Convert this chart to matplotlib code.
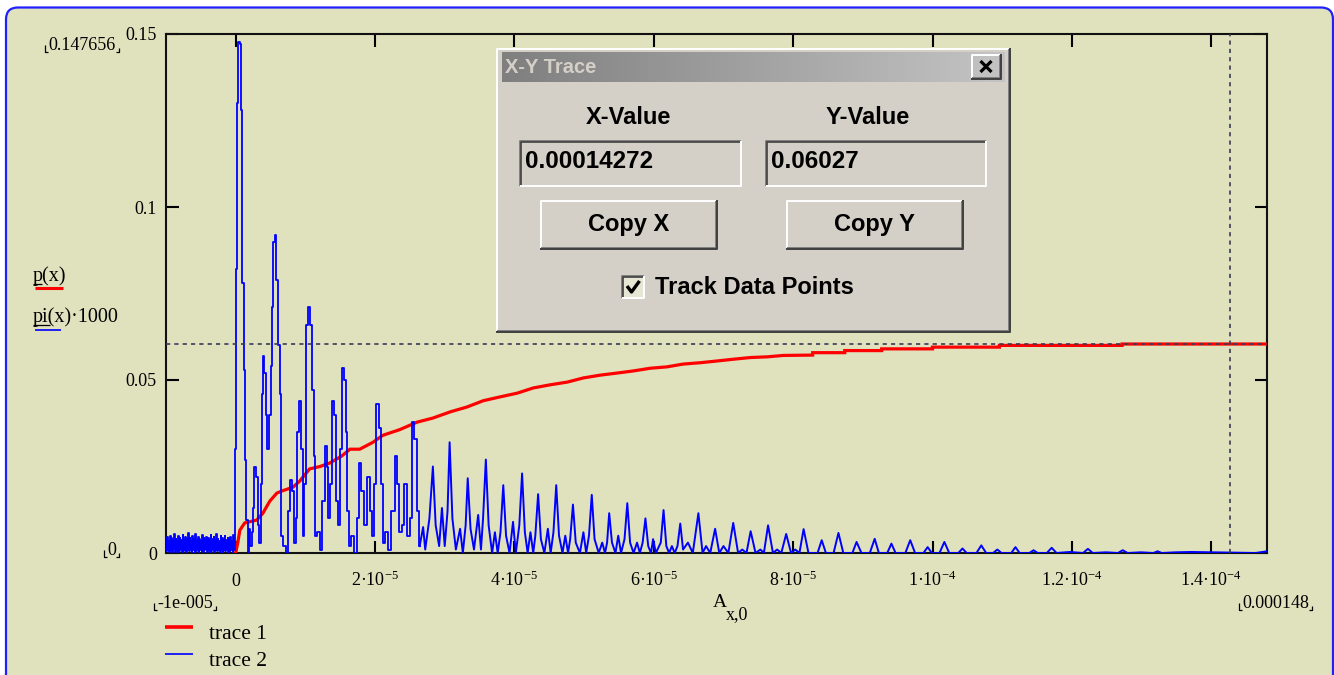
import numpy as np
import matplotlib
matplotlib.use('Agg')
import matplotlib.pyplot as plt
from matplotlib.patches import Rectangle, FancyBboxPatch
from matplotlib.colors import LinearSegmentedColormap

# ---------------- data (x in units of 1e-5) ----------------
noise_x_range = (-1.0, -0.02)
noise_y = [0.0040, 0.0005, 0.0045, 0.0010, 0.0035, 0.0002, 0.0050, 0.0008, 0.0042, 0.0003,
           0.0038, 0.0012, 0.0055, 0.0004, 0.0041, 0.0009, 0.0036, 0.0001, 0.0048, 0.0007,
           0.0044, 0.0011, 0.0039, 0.0003, 0.0052, 0.0006, 0.0037, 0.0010, 0.0046, 0.0002,
           0.0040, 0.0008, 0.0058, 0.0005, 0.0043, 0.0012, 0.0035, 0.0004, 0.0049, 0.0009,
           0.0041, 0.0001, 0.0054, 0.0007, 0.0038, 0.0011, 0.0045, 0.0003, 0.0040, 0.0010,
           0.0036, 0.0006, 0.0051, 0.0002, 0.0044, 0.0008, 0.0039, 0.0012, 0.0047, 0.0004,
           0.0042, 0.0009, 0.0037, 0.0001, 0.0053, 0.0007, 0.0040, 0.0011, 0.0045, 0.0003,
           0.0038, 0.0010, 0.0056, 0.0005, 0.0041, 0.0008, 0.0036, 0.0002, 0.0048, 0.0012,
           0.0043, 0.0004, 0.0039, 0.0009, 0.0050, 0.0006, 0.0037, 0.0011, 0.0044, 0.0001,
           0.0040, 0.0007, 0.0047, 0.0010, 0.0035, 0.0003, 0.0052, 0.0008]

blue_x = [0.00, 0.01, 0.03, 0.05, 0.07, 0.08, 0.10, 0.13, 0.15, 0.16, 0.18, 0.20, 0.22, 0.24,
          0.26, 0.28, 0.31, 0.33, 0.35, 0.37, 0.39, 0.40, 0.42, 0.44, 0.46, 0.49, 0.51, 0.53,
          0.55, 0.575, 0.595, 0.62, 0.64, 0.66, 0.70, 0.74, 0.76, 0.79, 0.82, 0.85, 0.87, 0.90,
          0.92, 0.95, 0.97, 1.00, 1.02, 1.05, 1.08, 1.11, 1.13, 1.15, 1.19, 1.22, 1.26, 1.29,
          1.32, 1.34, 1.37, 1.40, 1.43, 1.46, 1.48, 1.51, 1.54, 1.57, 1.59, 1.61, 1.64, 1.68,
          1.71, 1.76, 1.79, 1.82, 1.85, 1.91, 1.95, 1.97, 2.00, 2.04, 2.07, 2.10, 2.12, 2.17,
          2.21, 2.26, 2.30, 2.34, 2.36, 2.40, 2.44, 2.48, 2.51, 2.55, 2.58, 2.61, 2.64, 2.69,
          2.72, 2.78, 2.83, 2.87, 2.92, 2.96, 3.00, 3.04, 3.07, 3.11, 3.16, 3.22, 3.26, 3.30,
          3.33, 3.37, 3.42, 3.48, 3.52, 3.55, 3.59, 3.63, 3.68, 3.72, 3.76, 3.80, 3.84, 3.88,
          3.93, 3.98, 4.02, 4.07, 4.11, 4.15, 4.19, 4.23, 4.27, 4.30, 4.34, 4.38, 4.43, 4.48,
          4.52, 4.56, 4.60, 4.64, 4.69, 4.73, 4.77, 4.80, 4.84, 4.88, 4.94, 4.99, 5.03, 5.07,
          5.11, 5.15, 5.21, 5.26, 5.30, 5.33, 5.36, 5.40, 5.45, 5.49, 5.53, 5.58, 5.62, 5.66,
          5.71, 5.76, 5.80, 5.84, 5.88, 5.92, 5.96, 5.99, 6.03, 6.10, 6.14, 6.18, 6.22, 6.26,
          6.30, 6.34, 6.38, 6.42, 6.49, 6.56, 6.64, 6.70, 6.75, 6.81, 6.88, 6.94, 7.00, 7.07,
          7.14, 7.21, 7.27, 7.33, 7.39, 7.46, 7.53, 7.58, 7.64, 7.71, 7.77, 7.83, 7.90, 7.97,
          8.03, 8.09, 8.15, 8.22, 8.28, 8.35, 8.41, 8.47, 8.58, 8.65, 8.72, 8.85, 8.91, 8.98,
          9.10, 9.17, 9.23, 9.35, 9.41, 9.47, 9.61, 9.68, 9.75, 9.87, 9.93, 9.99, 10.10, 10.17,
          10.24, 10.37, 10.43, 10.49, 10.63, 10.70, 10.77, 10.87, 10.93, 10.99, 11.13, 11.19,
          11.25, 11.39, 11.45, 11.51, 11.64, 11.71, 11.78, 11.97, 12.16, 12.23, 12.30, 12.49,
          12.66, 12.73, 12.80, 12.99, 13.17, 13.23, 13.29, 13.49, 13.71, 14.00, 14.37, 14.64,
          14.80]
blue_y = [0.030, 0.082, 0.130, 0.1476, 0.1472, 0.128, 0.078, 0.053, 0.027, 0.0095, 0.000, 0.007,
          0.002, 0.006, 0.013, 0.025, 0.022, 0.008, 0.003, 0.020, 0.046, 0.057, 0.052, 0.040,
          0.030, 0.040, 0.054, 0.071, 0.090, 0.092, 0.079, 0.060, 0.046, 0.005, 0.002, 0.000,
          0.012, 0.021, 0.018, 0.003, 0.010, 0.035, 0.044, 0.030, 0.005, 0.020, 0.066, 0.071,
          0.066, 0.047, 0.028, 0.005, 0.006, 0.001, 0.015, 0.031, 0.025, 0.010, 0.020, 0.044,
          0.040, 0.015, 0.008, 0.030, 0.0535, 0.050, 0.035, 0.012, 0.002, 0.005, 0.000, 0.010,
          0.026, 0.018, 0.008, 0.022, 0.012, 0.005, 0.020, 0.043, 0.036, 0.020, 0.003, 0.006,
          0.001, 0.012, 0.028, 0.020, 0.006, 0.008, 0.020, 0.005, 0.010, 0.038, 0.033, 0.012,
          0.002, 0.0075, 0.001, 0.010, 0.025, 0.008, 0.002, 0.013, 0.002, 0.012, 0.032, 0.010,
          0.001, 0.007, 0.000, 0.008, 0.0216, 0.007, 0.001, 0.011, 0.001, 0.010, 0.027, 0.008,
          0.000, 0.006, 0.000, 0.006, 0.0196, 0.005, 0.000, 0.009, 0.000, 0.008, 0.023, 0.006,
          0.000, 0.006, 0.000, 0.005, 0.017, 0.004, 0.000, 0.007, 0.000, 0.006, 0.0196, 0.005,
          0.000, 0.005, 0.000, 0.004, 0.014, 0.003, 0.000, 0.006, 0.000, 0.005, 0.0168, 0.004,
          0.000, 0.003, 0.000, 0.003, 0.0115, 0.003, 0.000, 0.005, 0.000, 0.004, 0.0144, 0.003,
          0.000, 0.003, 0.000, 0.003, 0.010, 0.002, 0.000, 0.004, 0.000, 0.003, 0.0124, 0.002,
          0.000, 0.002, 0.000, 0.002, 0.0085, 0.001, 0.003, 0.000, 0.0115, 0.000, 0.002, 0.000,
          0.007, 0.000, 0.002, 0.000, 0.0087, 0.000, 0.001, 0.000, 0.0063, 0.000, 0.001, 0.000,
          0.008, 0.000, 0.001, 0.000, 0.0055, 0.000, 0.001, 0.000, 0.0069, 0.000, 0.000, 0.000,
          0.0037, 0.000, 0.000, 0.0058, 0.000, 0.000, 0.0032, 0.000, 0.000, 0.0041, 0.000, 0.000,
          0.0027, 0.000, 0.000, 0.0037, 0.000, 0.000, 0.0017, 0.000, 0.000, 0.0032, 0.000, 0.000,
          0.0013, 0.000, 0.000, 0.0022, 0.000, 0.000, 0.0010, 0.000, 0.000, 0.0017, 0.000, 0.000,
          0.0008, 0.000, 0.000, 0.0015, 0.000, 0.0003, 0.000, 0.0012, 0.000, 0.0002, 0.000,
          0.0008, 0.000, 0.0002, 0.000, 0.0005, 0.000, 0.0002, 0.0003, 0.0002, 0.0001, 0.000,
          0.0005]

red_x = [0.0, 0.03, 0.06, 0.13, 0.30, 0.39, 0.49, 0.59, 0.66, 0.82, 0.92, 1.06, 1.21, 1.35,
         1.52, 1.64, 1.78, 1.97, 2.11, 2.36, 2.60, 2.83, 3.08, 3.32, 3.55, 3.79, 4.04, 4.27,
         4.51, 4.76, 4.99, 5.23, 5.47, 5.70, 5.95, 6.19, 6.42, 6.67, 6.91, 7.14, 7.39, 7.63,
         7.86, 8.28, 8.28, 8.74, 8.74, 9.27, 9.27, 10.00, 10.00, 10.96, 10.96, 12.72, 12.72,
         14.83]
red_y = [0.0, 0.003, 0.0066, 0.0087, 0.0095, 0.0115, 0.015, 0.0173, 0.0179, 0.019, 0.0208,
         0.0243, 0.025, 0.026, 0.028, 0.030, 0.030, 0.032, 0.034, 0.0357, 0.0378, 0.039,
         0.0408, 0.0422, 0.044, 0.0451, 0.0462, 0.0477, 0.0486, 0.0494, 0.0506, 0.0514,
         0.052, 0.0526, 0.0534, 0.0538, 0.0546, 0.055, 0.0555, 0.056, 0.0565, 0.0567,
         0.0571, 0.0572, 0.0579, 0.0579, 0.0585, 0.0585, 0.0590, 0.0590, 0.0595, 0.0595,
         0.0600, 0.0600, 0.0604, 0.0604]

x_ticks = [0, 2e-5, 4e-5, 6e-5, 8e-5, 1e-4, 1.2e-4, 1.4e-4]
x_tick_labels = ['0', '2·10$^{-5}$', '4·10$^{-5}$', '6·10$^{-5}$', '8·10$^{-5}$',
                 '1·10$^{-4}$', '1.2·10$^{-4}$', '1.4·10$^{-4}$']
y_ticks = [0, 0.05, 0.1, 0.15]
y_tick_labels = ['0', '0.05', '0.1', '0.15']
x_limits = (-1e-5, 1.48e-4)
y_limits = (0, 0.15)
cursor_x = 0.00014272
cursor_y = 0.06027
step_region_end = 2.64  # blocky sampling near the start, smoother tail

# ---------------- style ----------------
BG = '#dfe2bd'
DLG = '#d4d0c8'
plt.rcParams['font.family'] = ['Liberation Serif', 'DejaVu Serif']
plt.rcParams['mathtext.fontset'] = 'custom'
plt.rcParams['mathtext.rm'] = 'Liberation Serif'
plt.rcParams['mathtext.it'] = 'Liberation Serif:italic'
plt.rcParams['mathtext.bf'] = 'Liberation Serif:bold'
SANS = ['Liberation Sans', 'DejaVu Sans']

W, H = 1334, 675
fig = plt.figure(figsize=(W / 100, H / 100), dpi=100)
fig.patch.set_facecolor('white')

# background panel
bg = fig.add_axes([0, 0, 1, 1], zorder=0)
bg.set_xlim(0, W); bg.set_ylim(H, 0); bg.axis('off')
bg.add_patch(FancyBboxPatch((6, 7.5), 1327, 720, boxstyle='round,pad=0,rounding_size=12',
                            fc=BG, ec='#2020ff', lw=1.6))

# main axes
L, R, T, B = 166, 1267, 34, 553
ax = fig.add_axes([L / W, 1 - B / H, (R - L) / W, (B - T) / H], zorder=1)
ax.set_facecolor(BG)

nx = np.linspace(noise_x_range[0], noise_x_range[1], len(noise_y))
bx_u = np.concatenate([nx, np.array(blue_x)])
bx = bx_u * 1e-5
by = np.concatenate([np.array(noise_y), np.array(blue_y)])
rx = np.array(red_x) * 1e-5
ry = np.array(red_y)

ax.plot(rx, ry, color='#ff0000', lw=2.3, zorder=3, solid_joinstyle='miter')
m1 = bx_u <= step_region_end
m2 = bx_u >= step_region_end
ax.plot(bx[m1], by[m1], color='#0000ff', lw=1.3, zorder=4, drawstyle='steps-mid')
ax.plot(bx[m2], by[m2], color='#0000ff', lw=1.4, zorder=4)
ax.axhline(cursor_y, color='#3a3a55', lw=1.2, ls=(0, (2.5, 2.5)), zorder=5)
ax.axvline(cursor_x, color='#3a3a55', lw=1.2, ls=(0, (2.5, 2.5)), zorder=5)

ax.set_xlim(*x_limits)
ax.set_ylim(*y_limits)
ax.set_xticks(x_ticks)
ax.set_xticklabels(x_tick_labels)
ax.set_yticks(y_ticks)
ax.set_yticklabels(y_tick_labels)
ax.tick_params(direction='in', length=9, width=1.5, top=True, right=True,
               labelsize=13, colors='black')
ax.tick_params(axis='x', pad=23.5)
ax.tick_params(axis='y', pad=6.5)
for lbl in ax.get_xticklabels():
    lbl.set_va('baseline')
for s in ax.spines.values():
    s.set_linewidth(1.5)
    s.set_color('#111111')

# ---------------- front overlay ----------------
ov = fig.add_axes([0, 0, 1, 1], zorder=10)
ov.set_xlim(0, W); ov.set_ylim(H, 0); ov.axis('off')
ov.patch.set_alpha(0)

def line(xs, ys, **kw):
    ov.plot(xs, ys, solid_capstyle='butt', **kw)

# axis label A_{x,0}
ov.text(713, 607, 'A', fontsize=14, va='baseline', ha='left')
ov.text(726, 619, 'x,0', fontsize=13, va='baseline', ha='left')

# y-axis trace labels
ov.text(33, 281, 'p(x)', fontsize=14.5, va='baseline', ha='left')
line([33, 42], [284, 284], color='black', lw=0.9)
line([35, 63], [288, 288], color='#ff0000', lw=2.2)
ov.text(33, 322, 'pi(x)·1000', fontsize=14.5, va='baseline', ha='left')
line([33, 50], [325, 325], color='black', lw=0.9)
line([35, 61], [330, 330], color='#0000ff', lw=1.2)

# legend
line([165, 193], [627, 627], color='#ff0000', lw=2.6)
ov.text(209, 639, 'trace 1', fontsize=15.5, va='baseline', ha='left')
line([165, 193], [654, 654], color='#0000ff', lw=1.2)
ov.text(209, 666, 'trace 2', fontsize=15.5, va='baseline', ha='left')

# limit labels with corner marks
def limit_label(x0, base, text):
    t = ov.text(x0, base, text, fontsize=13, va='baseline', ha='left')
    fig.canvas.draw()
    bb = t.get_window_extent(renderer=fig.canvas.get_renderer())
    x1 = x0 + bb.width
    line([x0 - 3, x0 - 3, x0 - 0.5], [base - 5, base + 2, base + 2], color='black', lw=0.9)
    line([x1 + 0.5, x1 + 3.5, x1 + 3.5], [base + 2, base + 2, base - 2], color='black', lw=0.9)

limit_label(48, 50, '0.147656')
limit_label(107, 555, '0')
limit_label(157, 608, '-1e-005')
limit_label(1242, 608, '0.000148')

# ---------------- X-Y Trace dialog ----------------
def bevel(x0, y0, x1, y1, raised=True, fill=DLG, outer=True):
    ov.add_patch(Rectangle((x0, y0), x1 - x0, y1 - y0, fc=fill, ec='none'))
    if raised:
        lt, dk, od = 'white', '#808080', '#404040'
        line([x1, x0, x0], [y0, y0, y1], color=lt, lw=1.4)
        line([x0, x1, x1], [y1, y1, y0], color=dk, lw=1.4)
        if outer:
            line([x0 - 1, x1 + 1.2, x1 + 1.2], [y1 + 1.2, y1 + 1.2, y0 - 1], color=od, lw=1.4)
    else:
        line([x1, x0, x0], [y0, y0, y1], color='#808080', lw=1.4)
        line([x1 - 1, x0 + 1.2, x0 + 1.2], [y0 + 1.2, y0 + 1.2, y1 - 1], color='#404040', lw=1.2)
        line([x0, x1, x1], [y1, y1, y0], color='white', lw=1.4)

bevel(497, 49, 1009, 331, raised=True)
grad = np.linspace(0, 1, 256).reshape(1, -1)
cmap = LinearSegmentedColormap.from_list('title', ['#7f7f7f', '#c4c4c4'])
ov.imshow(grad, extent=(502, 1005, 82, 52), aspect='auto', cmap=cmap, zorder=2)
ov.set_xlim(0, W); ov.set_ylim(H, 0)
ov.text(505, 67.5, 'X-Y Trace', family=SANS, weight='bold', fontsize=14.5,
        color='#d4d0c8', va='center', ha='left', zorder=3)
bevel(972, 55, 1000, 78, raised=True)
line([980.5, 991.5], [61, 72], color='black', lw=2.3)
line([980.5, 991.5], [72, 61], color='black', lw=2.3)

ov.text(628, 117, 'X-Value', family=SANS, weight='bold', fontsize=17, va='center', ha='center')
ov.text(868, 117, 'Y-Value', family=SANS, weight='bold', fontsize=17, va='center', ha='center')

bevel(520, 141, 741, 186, raised=False)
bevel(766, 141, 986, 186, raised=False)
ov.text(525, 161, '0.00014272', family=SANS, weight='bold', fontsize=17.5, va='center', ha='left')
ov.text(771, 161, '0.06027', family=SANS, weight='bold', fontsize=17.5, va='center', ha='left')

bevel(541, 201, 716, 248, raised=True)
bevel(787, 201, 962, 248, raised=True)
ov.text(629, 224.5, 'Copy X', family=SANS, weight='bold', fontsize=17, va='center', ha='center')
ov.text(875, 224.5, 'Copy Y', family=SANS, weight='bold', fontsize=17, va='center', ha='center')

bevel(622, 276, 644, 298, raised=False, fill='#e6e6d4')
line([627, 631.5, 639.5], [286, 292, 281], color='black', lw=2.4)
ov.text(655, 287.5, 'Track Data Points', family=SANS, weight='bold', fontsize=17,
        va='center', ha='left')

fig.savefig('out.png', dpi=100, facecolor=fig.get_facecolor())
